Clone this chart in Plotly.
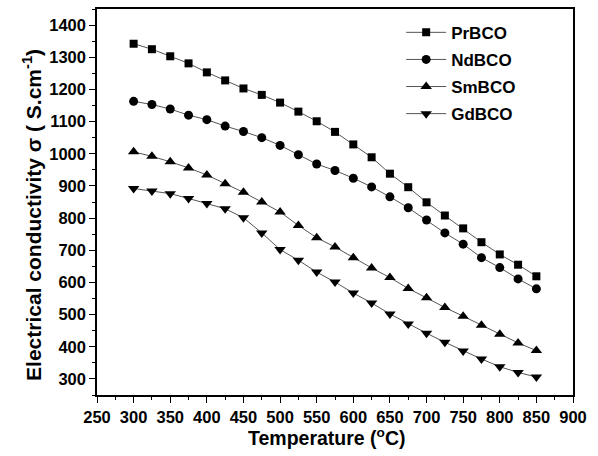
import plotly.graph_objects as go

temps = [300, 325, 350, 375, 400, 425, 450, 475, 500, 525, 550, 575,
         600, 625, 650, 675, 700, 725, 750, 775, 800, 825, 850]
pr = [1342, 1325, 1303, 1281, 1253, 1228, 1203, 1183, 1159, 1131, 1101, 1068,
      1029, 989, 938, 896, 849, 808, 768, 725, 687, 655, 619]
nd = [1163, 1153, 1139, 1120, 1106, 1086, 1069, 1050, 1026, 997, 968, 948,
      924, 897, 866, 832, 794, 754, 719, 677, 646, 611, 580]
sm = [1006, 992, 975, 956, 934, 907, 880, 850, 819, 777, 739, 710,
      677, 645, 615, 581, 552, 522, 495, 467, 439, 412, 388]
gd = [892, 884, 876, 861, 845, 829, 801, 754, 702, 669, 632, 601,
      567, 536, 502, 471, 442, 414, 387, 362, 338, 320, 306]

series = [("PrBCO", pr, "square", 8), ("NdBCO", nd, "circle", 9),
          ("SmBCO", sm, "triangle-up", 10), ("GdBCO", gd, "triangle-down", 10)]

fig = go.Figure()
for name, vals, sym, sz in series:
    fig.add_trace(go.Scatter(
        x=temps, y=vals, name=name, mode="lines+markers", legendgroup=name,
        line=dict(color="#555555", width=1),
        marker=dict(symbol=sym, size=sz, color="black"),
    ))

font = "Liberation Sans, Arial, sans-serif"
axis_common = dict(
    showline=True, linecolor="black", linewidth=1.5, mirror=True,
    ticks="outside", ticklen=6, tickwidth=1, tickcolor="black",
    showgrid=False, zeroline=False,
    tickfont=dict(family=font, size=16.5, color="black", weight="bold"),
    minor=dict(ticks="outside", ticklen=3, tickcolor="black"),
)

fig.update_layout(
    width=598, height=456,
    margin=dict(l=97, r=25, t=7, b=61),
    paper_bgcolor="white", plot_bgcolor="white",
    font=dict(family=font, color="black"),
    xaxis=dict(range=[250, 900], dtick=50, tick0=250, **axis_common),
    yaxis=dict(range=[250, 1450], dtick=100, tick0=300, **axis_common),
    legend=dict(x=0.639, y=0.985, xanchor="left", yanchor="top",
                bgcolor="rgba(0,0,0,0)", tracegroupgap=2, itemwidth=40,
                font=dict(family=font, size=17, color="black", weight="bold")),
    annotations=[
        dict(text="<b>Temperature (<sup>o</sup>C)</b>", xref="paper", yref="paper",
             x=(327 - 97) / 476, y=0, yshift=-42, xanchor="center", yanchor="middle",
             showarrow=False, font=dict(family=font, size=19.5, color="black")),
        dict(text="<b>Electrical conductivity σ ( S.cm<sup>-1</sup>)</b>",
             xref="paper", yref="paper", textangle=-90,
             x=0, xshift=-65, y=(395 - 214) / 388, xanchor="center", yanchor="middle",
             showarrow=False, font=dict(family=font, size=21, color="black")),
    ],
)
fig.update_xaxes(minor=dict(dtick=25))
fig.update_yaxes(minor=dict(dtick=50))

fig.write_html("out.html")
